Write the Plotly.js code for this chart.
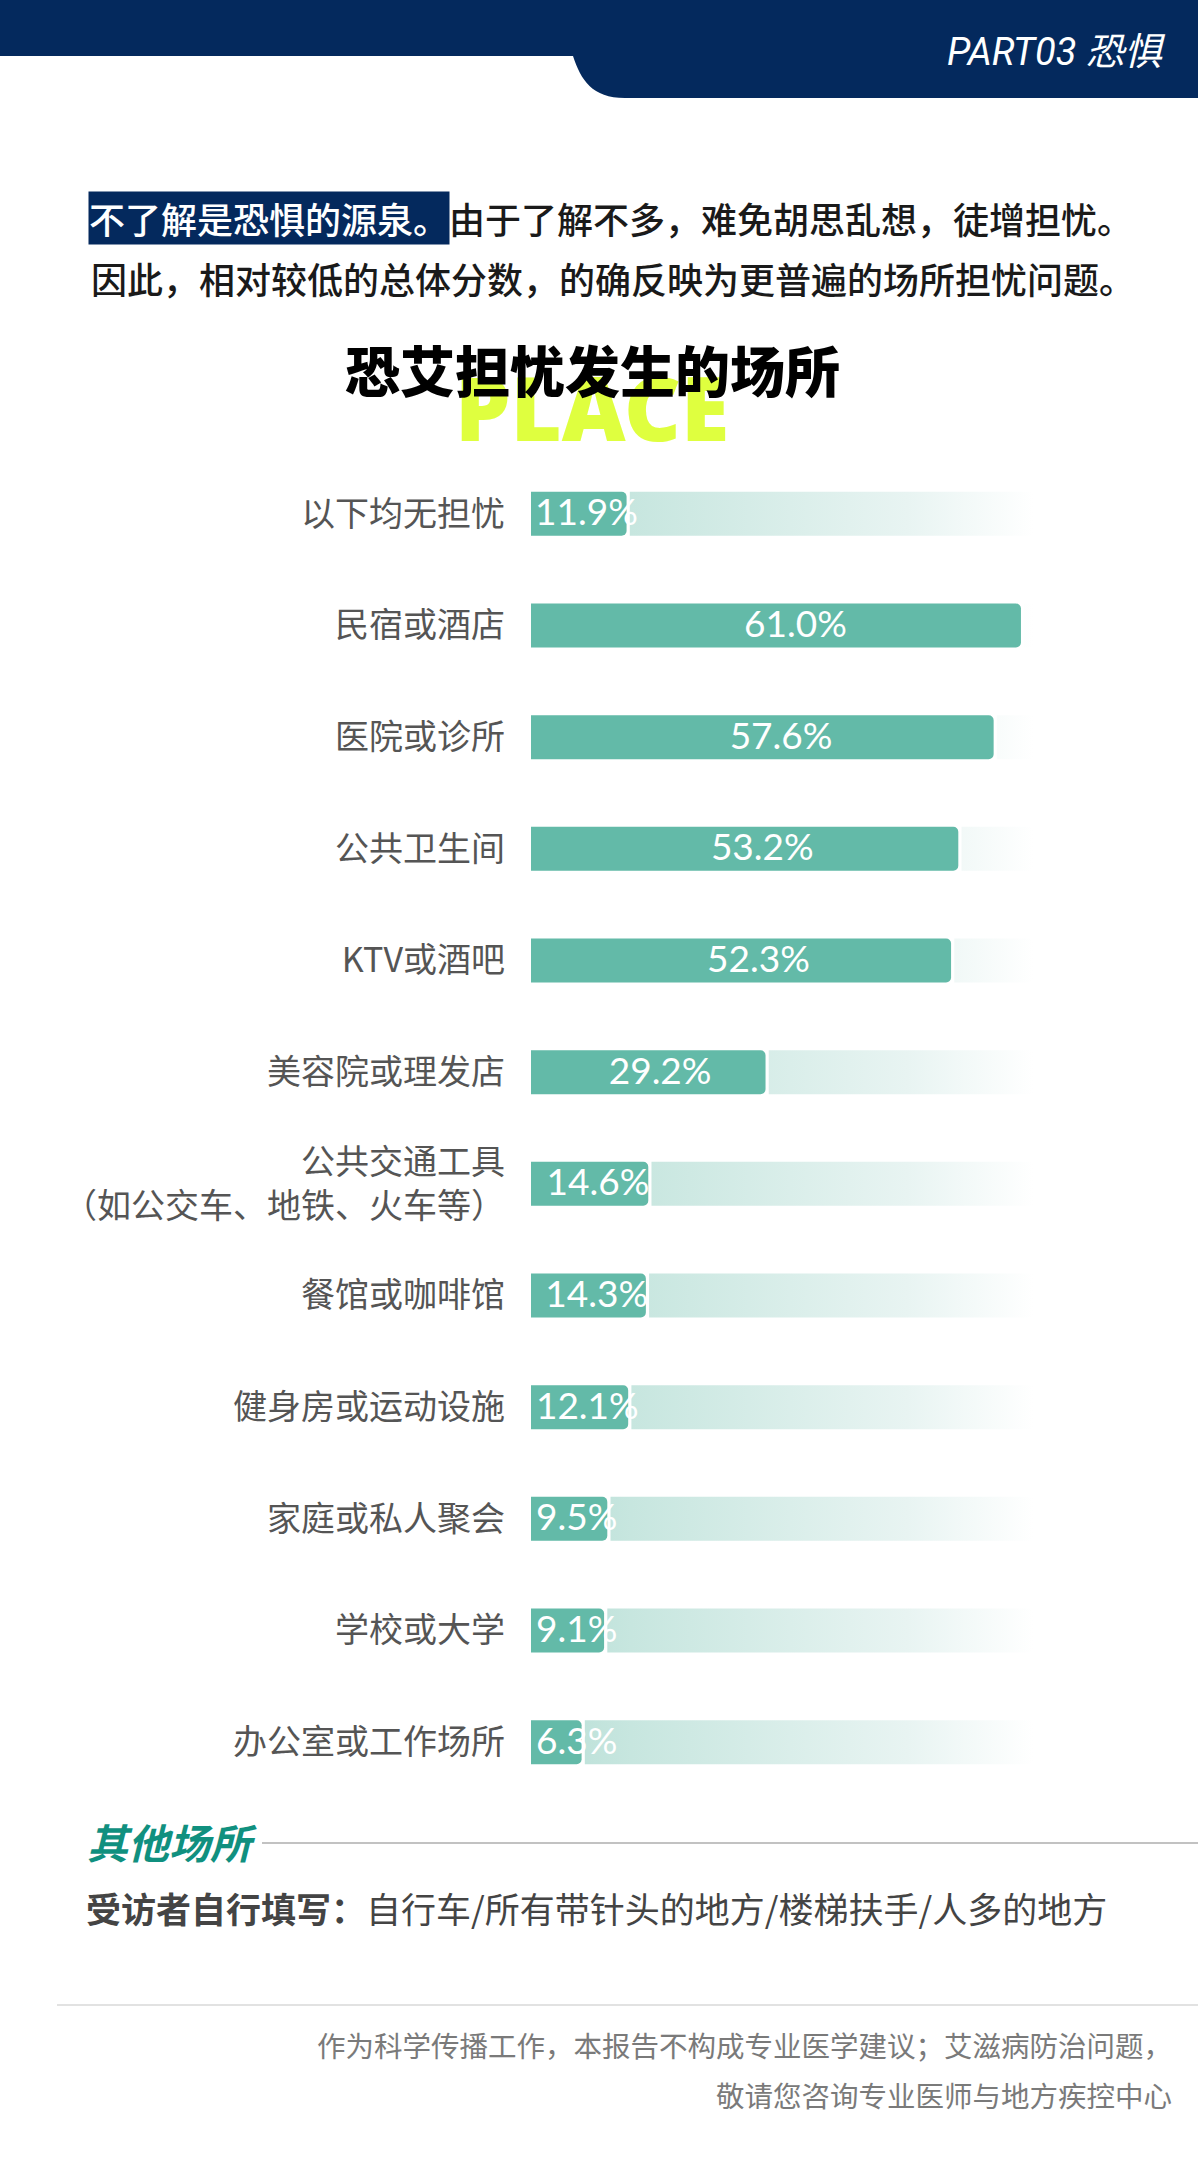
<!DOCTYPE html>
<html>
<head>
<meta charset="utf-8">
<script src="https://cdn.plot.ly/plotly-3.0.1.min.js"></script>
<style>
  html, body { margin: 0; padding: 0; background: #ffffff; }
  #chart { width: 1198px; height: 2158px; }
</style>
</head>
<body>
<div id="chart"></div>
<script>
// ---------------- data ----------------
const categories = [
  "以下均无担忧",
  "民宿或酒店",
  "医院或诊所",
  "公共卫生间",
  "KTV或酒吧",
  "美容院或理发店",
  "公共交通工具<br>（如公交车、地铁、火车等）",
  "餐馆或咖啡馆",
  "健身房或运动设施",
  "家庭或私人聚会",
  "学校或大学",
  "办公室或工作场所"
];
const values = [11.9, 61.0, 57.6, 53.2, 52.3, 29.2, 14.6, 14.3, 12.1, 9.5, 9.1, 6.3];
const valueLabels = ["11.9%", "61.0%", "57.6%", "53.2%", "52.3%", "29.2%", "14.6%", "14.3%", "12.1%", "9.5%", "9.1%", "6.3%"];
const trackMax = 62.5;

const headerText = "PART03 恐惧";
const introHighlight = "不了解是恐惧的源泉。";
const introRest = "由于了解不多，难免胡思乱想，徒增担忧。";
const introLine2 = "因此，相对较低的总体分数，的确反映为更普遍的场所担忧问题。";
const chartTitle = "恐艾担忧发生的场所";
const chartSubtitle = "PLACE";
const otherTitle = "其他场所";
const otherLead = "受访者自行填写：";
const otherText = "自行车/所有带针头的地方/楼梯扶手/人多的地方";
const footer1 = "作为科学传播工作，本报告不构成专业医学建议；艾滋病防治问题，";
const footer2 = "敬请您咨询专业医师与地方疾控中心";

// ---------------- layout geometry ----------------
const W = 1198, H = 2158;
const ML = 531, MR = 165, MT = 458, MB = 360;
const PW = W - ML - MR, PH = H - MT - MB;
const px = p => (p - ML) / PW;
const py = p => 1 - (p - MT) / PH;

const CJK = "'Noto Sans CJK SC', 'Noto Sans', sans-serif";
const barColor = "#63baa8";
const navy = "#04295d";
const barW = 0.394;
const gap = 0.4;

// background tracks (gradient), built from the values
const tx = [], ty = [];
values.forEach((v, i) => {
  const x0 = v + gap, h = barW / 2;
  if (x0 < trackMax) {
    tx.push(x0, trackMax, trackMax, x0, x0, null);
    ty.push(i - h, i - h, i + h, i + h, i - h, null);
  }
});

const idx = values.map((v, i) => i);

const traces = [
  {
    type: "scatter", mode: "lines", x: tx, y: ty,
    fill: "toself", line: { width: 0, color: "rgba(0,0,0,0)" },
    fillgradient: {
      type: "horizontal",
      colorscale: [[0, "#b8dfd6"], [0.2, "#c7e6df"], [0.75, "#e8f4f2"], [1, "#ffffff"]],
      start: 0, stop: trackMax
    },
    hoverinfo: "skip", showlegend: false
  },
  {
    type: "bar", orientation: "h", x: values, y: idx,
    width: barW, marker: { color: barColor, line: { width: 0 } },
    hoverinfo: "skip", showlegend: false
  },
  {
    type: "scatter", mode: "text",
    x: values.map(v => Math.max(v * 0.53 + 0.6, 5.7)), y: idx.map(i => i + 0.02),
    text: valueLabels, textposition: "middle center",
    textfont: { family: "Lato, 'Open Sans', sans-serif", size: 37, color: "#ffffff" },
    cliponaxis: false, hoverinfo: "skip", showlegend: false
  }
];

const ann = (text, x, y, opts) => Object.assign({
  text, x: px(x), y: py(y), xref: "paper", yref: "paper",
  showarrow: false, xanchor: "left", yanchor: "middle"
}, opts || {});

const annotations = [
  ann(headerText, 1168, 52, { xanchor: "right", font: { family: "Roboto, " + CJK, size: 38, color: "#ffffff", style: "italic", weight: 400 } }),
  ann(introHighlight, 88, 218, { font: { family: CJK, size: 36, color: "#ffffff", weight: 500 }, bgcolor: navy, borderpad: 0 }),
  ann(introRest, 447, 218, { font: { family: CJK, size: 36, color: "#1a1a1a", weight: 500 } }),
  ann(introLine2, 89, 278, { font: { family: CJK, size: 36, color: "#1a1a1a", weight: 500 } }),
  ann(chartSubtitle, 592, 407, { xanchor: "center", font: { family: "'Noto Sans', 'Open Sans', sans-serif", size: 88, color: "#dfff3f", weight: 900 } }),
  ann(chartTitle, 592, 368, { xanchor: "center", font: { family: CJK, size: 55, color: "#000000", weight: 900 } }),
  ann(otherTitle, 85, 1841, { font: { family: CJK, size: 41, color: "#10907f", weight: 700, style: "italic" } }),
  ann("<b>" + otherLead + "</b>" + otherText, 84, 1907, { font: { family: CJK, size: 35, color: "#444444" } }),
  ann(footer1, 1174, 2044, { xanchor: "right", font: { family: CJK, size: 28.5, color: "#7a7a7a" } }),
  ann(footer2, 1174, 2094, { xanchor: "right", font: { family: CJK, size: 28.5, color: "#7a7a7a" } })
];

// header shape path in paper units
const P = (x, y) => px(x) + "," + py(y);
const headerPath = "M" + P(0, 0) + " L" + P(W, 0) + " L" + P(W, 98) + " L" + P(625, 98) +
  " C" + P(592, 98) + " " + P(581, 80) + " " + P(573, 56) + " L" + P(0, 56) + " Z";

const shapes = [
  { type: "path", xref: "paper", yref: "paper", path: headerPath, fillcolor: navy, line: { width: 0 }, layer: "below" },
  { type: "line", xref: "paper", yref: "paper", x0: px(262), x1: px(W), y0: py(1843), y1: py(1843), line: { color: "#c2c2c2", width: 2 } },
  { type: "line", xref: "paper", yref: "paper", x0: px(57), x1: px(W), y0: py(2005), y1: py(2005), line: { color: "#e2e2e2", width: 2 } }
];

const layout = {
  width: W, height: H,
  margin: { l: ML, r: MR, t: MT, b: MB, pad: 0 },
  paper_bgcolor: "#ffffff", plot_bgcolor: "#ffffff",
  showlegend: false,
  barcornerradius: 5,
  xaxis: { range: [0, trackMax], showgrid: false, zeroline: false, showticklabels: false, showline: false, fixedrange: true },
  yaxis: {
    range: [values.length - 0.5, -0.5], tickmode: "array", tickvals: idx, ticktext: categories,
    showgrid: false, zeroline: false, showline: false, ticks: "",
    ticklabelstandoff: 25,
    tickfont: { family: CJK, size: 34, color: "#555555" }, fixedrange: true, automargin: false
  },
  annotations, shapes
};

Plotly.newPlot("chart", traces, layout, { displayModeBar: false, staticPlot: true });
</script>
</body>
</html>
